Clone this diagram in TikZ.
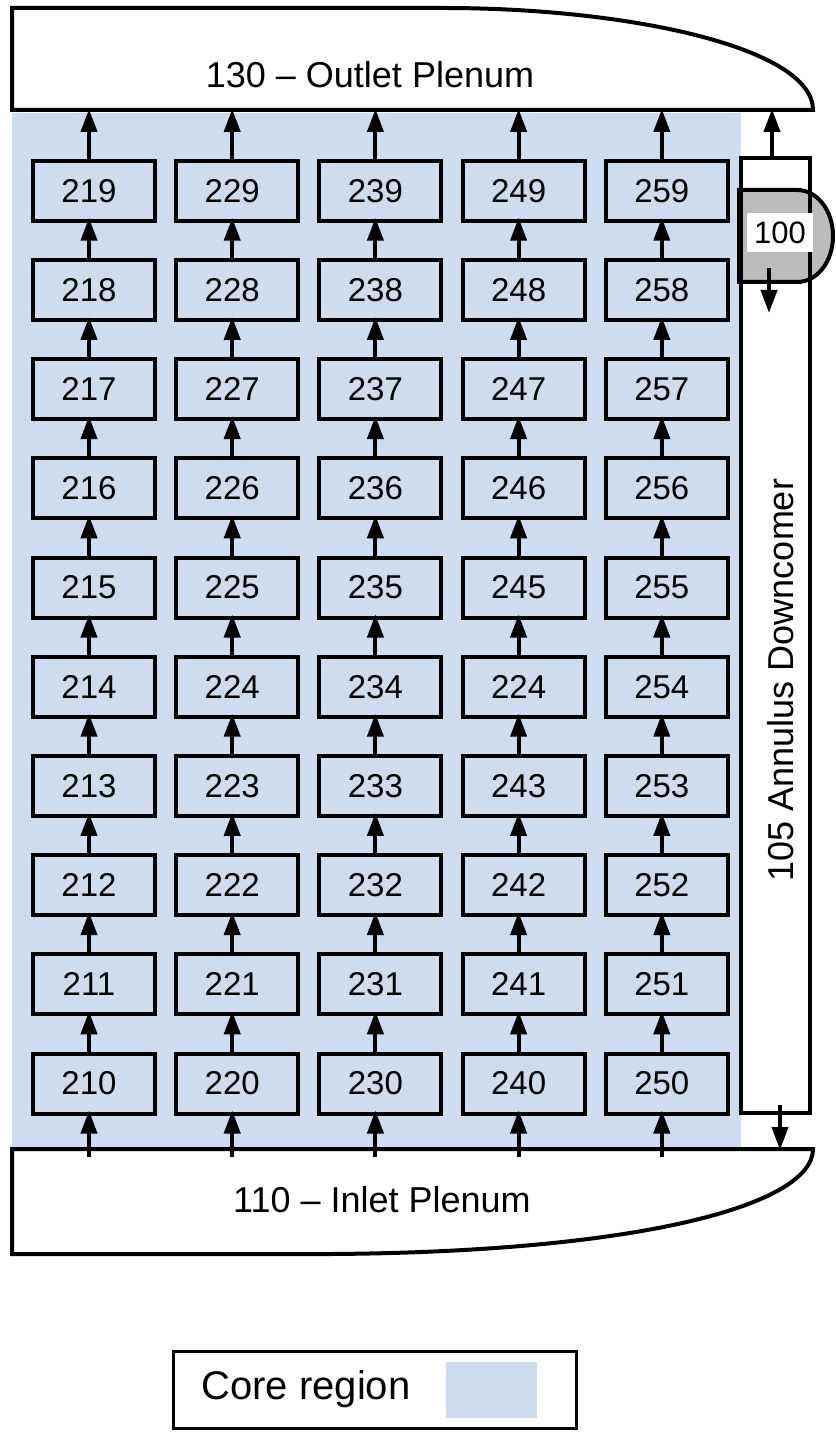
\documentclass[tikz,border=0pt]{standalone}
\usepackage{fontspec}
\setmainfont{Liberation Sans}
\usetikzlibrary{arrows.meta}
\definecolor{core}{RGB}{207,219,238}
\definecolor{greyhub}{RGB}{187,187,187}
\begin{document}
\begin{tikzpicture}[x=0.5pt,y=-0.5pt,
  cell/.style={draw, line width=2pt, fill=core, minimum width=61pt, minimum height=30pt, inner sep=0pt, font=\fontsize{16.5}{19}\selectfont},
  flow/.style={line width=2pt, -{Triangle[width=8pt,length=11.5pt]}},
  outline/.style={line width=2pt},
  bigtext/.style={font=\fontsize{18}{21}\selectfont, inner sep=0pt}]
\useasboundingbox (0,0) rectangle (835,1433);
% core region
\fill[core] (12,113) rectangle (741,1148);
% outlet plenum
\draw[outline, fill=white] (12,110) -- (12,8) -- (444,8) .. controls (630,8) and (813,48) .. (813,110) -- cycle;
\node[bigtext] (outlet) at (370,75) {130 – Outlet Plenum};
% inlet plenum
\draw[outline, fill=white] (12,1149) -- (813,1149) .. controls (813,1205) and (640,1252) .. (330,1254) -- (12,1254) -- cycle;
\node[bigtext] (inlet) at (382,1200) {110 – Inlet Plenum};
% component 100 (behind the annulus outline)
\draw[outline, fill=greyhub] (739,190) -- (797,190) .. controls (817.4,190) and (833,210.6) .. (833,236) .. controls (833,261.4) and (817.4,282) .. (797,282) -- (739,282) -- cycle;
% annulus downcomer
\node[draw, line width=2pt, minimum width=34.5pt, minimum height=477.5pt, inner sep=0pt] (ann) at (775.5,635.5) {};
\node[bigtext, rotate=90] (anntext) at (781,680) {105 Annulus Downcomer};
\node[fill=white, minimum width=33pt, minimum height=19.5pt, inner sep=0pt, font=\fontsize{15.5}{18}\selectfont] (hub) at (780,232.5) {100};
% core cells
\foreach \j in {1,...,5}{
  \foreach \i in {0,...,9}{
    \node[cell] (c\j\i) at ({94+143.2*(\j-1)},{1083.5-99.2*\i}) {\kern-5pt\ifnum\j\i=44 224\else 2\j\i\fi};
  }
}
% flow arrows in the core
\foreach \j in {1,...,5}{
  \foreach \i [evaluate=\i as \k using int(\i+1)] in {0,...,8}{
    \draw[flow, shorten >=-2.5pt] ([xshift=-2.5pt]c\j\i.north) -- ([xshift=-2.5pt]c\j\k.south);
  }
  \coordinate (in\j) at ({89+143.2*(\j-1)},1157);
  \coordinate (out\j) at ({89+143.2*(\j-1)},109);
  \draw[flow, shorten >=-2.5pt] (in\j) -- ([xshift=-2.5pt]c\j0.south);
  \draw[flow] ([xshift=-2.5pt]c\j9.north) -- (out\j);
}
% annulus connections
\coordinate (annout) at (772,109);
\draw[flow] ([xshift=-1.75pt]ann.north) -- (annout);
\coordinate (annlow) at (780,1105);
\coordinate (inletin) at (780,1150);
\draw[flow] (annlow) -- (inletin);
\coordinate (hubout1) at (769,268);
\coordinate (hubout2) at (769,313);
\draw[flow] (hubout1) -- (hubout2);
% legend
\node[draw, line width=1.6pt, minimum width=201.5pt, minimum height=38.5pt, inner sep=0pt] (legend) at (375,1390) {};
\node[font=\fontsize{20}{24}\selectfont, inner sep=0pt] (legtext) at (306,1389) {Core region};
\node[fill=core, minimum width=45.5pt, minimum height=28pt, inner sep=0pt] (legswatch) at (491.5,1390) {};
\end{tikzpicture}
\end{document}
